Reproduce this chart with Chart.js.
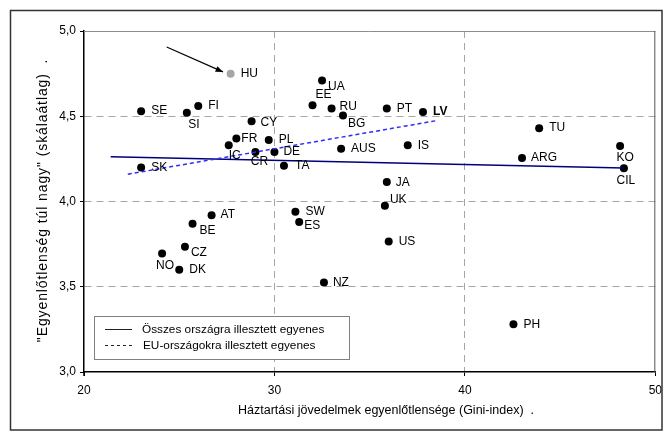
<!DOCTYPE html>
<html>
<head>
<meta charset="utf-8">
<script src="https://cdn.jsdelivr.net/npm/chart.js@4/dist/chart.umd.min.js"></script>
<style>
html,body{margin:0;padding:0;background:#fff;}
#wrap{width:669px;height:438px;}
</style>
</head>
<body>
<div id="wrap"><canvas id="c" width="669" height="438"></canvas></div>
<script>
// ---- data ----
const countries = ['HU','SE','FI','SI','CY','FR','PL','IC','CR','DE','TA','SK','UA','EE','RU','BG','PT','LV','AUS','IS','JA','UK','SW','ES','US','NZ','TU','ARG','KO','CIL','PH','AT','BE','CZ','NO','DK'];
const gini  = [27.7,23.0,26.0,25.4,28.8,28.0,29.7,27.6,29.0,30.0,30.5,23.0,32.5,32.0,33.0,33.6,35.9,37.8,33.5,37.0,35.9,35.8,31.1,31.3,36.0,32.6,43.9,43.0,48.15,48.35,42.55,26.7,25.7,25.3,24.1,25.0];
const score = [4.75,4.53,4.56,4.52,4.47,4.37,4.36,4.33,4.29,4.29,4.21,4.20,4.71,4.565,4.545,4.505,4.545,4.525,4.31,4.33,4.115,3.975,3.94,3.88,3.765,3.525,4.43,4.255,4.325,4.195,3.28,3.92,3.87,3.735,3.695,3.60];
const highlighted = ['HU'];
const boldLabels = ['LV'];
const fitAllX = [21.4, 48.35];
const fitAllY = [4.262, 4.197];
const fitEuX = [22.3, 38.45];
const fitEuY = [4.16, 4.473];
const arrowX = [24.34, 27.3];
const arrowY = [4.906, 4.76];
const xTicks = [20, 30, 40, 50];
const yTicks = [3.0, 3.5, 4.0, 4.5, 5.0];
const yTickLabels = ['3,0', '3,5', '4,0', '4,5', '5,0'];
const legendLabels = ['Összes országra illesztett egyenes', 'EU-országokra illesztett egyenes'];
const xTitle = 'Háztartási jövedelmek egyenlőtlensége (Gini-index)  .';
const yTitle = '"Egyenlőtlenség túl nagy" (skálaátlag)  .';

// ---- label placement (style only): [dx, dy, textAlign] ----
const R = [10, 0, 'left'];
const placement = {
  HU: R, SE: R, FI: R, SI: [7, 12, 'center'], CY: [9, 1, 'left'], FR: [5, 0, 'left'], PL: R,
  IC: [6, 10, 'center'], CR: [4, 10, 'center'], DE: [9, 0, 'left'], TA: [11, 0, 'left'], SK: R,
  UA: [6, 6, 'left'], EE: [11, -10, 'center'], RU: [8, -2, 'left'], BG: [5, 8, 'left'], PT: R, LV: R,
  AUS: R, IS: R, JA: [9, 1, 'left'], UK: [5, -6, 'left'], SW: R, ES: [5, 4, 'left'], US: R, NZ: [9, 0, 'left'],
  TU: R, ARG: [9, 0, 'left'], KO: [5, 12, 'center'], CIL: [2, 12, 'center'], PH: R,
  AT: [9, 0, 'left'], BE: [7, 7, 'left'], CZ: [6, 6, 'left'], NO: [3, 12, 'center'], DK: R
};

const FONT = '"Liberation Sans", Arial, sans-serif';

const decor = {
  id: 'decor',
  beforeDatasetsDraw(chart) {
    const {ctx, chartArea: a} = chart;
    ctx.save();
    ctx.strokeStyle = '#8c8c8c';
    ctx.lineWidth = 1;
    ctx.beginPath();
    ctx.moveTo(a.left, a.top + 0.5);
    ctx.lineTo(a.right, a.top + 0.5);
    ctx.stroke();
    ctx.strokeStyle = '#555';
    ctx.beginPath();
    ctx.moveTo(a.right - 0.5, a.top);
    ctx.lineTo(a.right - 0.5, a.bottom);
    ctx.stroke();
    ctx.strokeStyle = '#000';
    ctx.lineWidth = 1.5;
    ctx.beginPath();
    ctx.moveTo(a.left, a.bottom);
    ctx.lineTo(a.left, a.bottom + 4);
    ctx.stroke();
    ctx.restore();
  },
  afterDraw(chart) {
    const {ctx, chartArea: a, scales: {x, y}} = chart;
    ctx.save();
    ctx.strokeStyle = '#333';
    ctx.lineWidth = 1.5;
    ctx.strokeRect(10.5, 10.5, 651.5, 419.5);

    const meta = chart.getDatasetMeta(2);
    ctx.fillStyle = '#000';
    ctx.textBaseline = 'middle';
    countries.forEach((c, i) => {
      const el = meta.data[i];
      const p = placement[c] || R;
      ctx.font = (boldLabels.includes(c) ? 'bold ' : '') + '12px ' + FONT;
      ctx.textAlign = p[2];
      ctx.fillText(c, el.x + p[0], el.y + p[1]);
    });

    const x1 = x.getPixelForValue(arrowX[0]), y1 = y.getPixelForValue(arrowY[0]);
    const x2 = x.getPixelForValue(arrowX[1]), y2 = y.getPixelForValue(arrowY[1]);
    ctx.strokeStyle = '#000';
    ctx.lineWidth = 1.2;
    ctx.beginPath();
    ctx.moveTo(x1, y1);
    ctx.lineTo(x2, y2);
    ctx.stroke();
    const ang = Math.atan2(y2 - y1, x2 - x1);
    ctx.beginPath();
    ctx.moveTo(x2, y2);
    ctx.lineTo(x2 - 8 * Math.cos(ang - 0.38), y2 - 8 * Math.sin(ang - 0.38));
    ctx.lineTo(x2 - 8 * Math.cos(ang + 0.38), y2 - 8 * Math.sin(ang + 0.38));
    ctx.closePath();
    ctx.fillStyle = '#000';
    ctx.fill();

    const lx = 94.5, ly = 316.5, lw = 255, lh = 43;
    ctx.fillStyle = '#fff';
    ctx.fillRect(lx, ly, lw, lh);
    ctx.strokeStyle = '#808080';
    ctx.lineWidth = 1;
    ctx.strokeRect(lx, ly, lw, lh);
    ctx.font = '11.8px ' + FONT;
    ctx.textAlign = 'left';
    ctx.textBaseline = 'middle';
    ctx.fillStyle = '#000';
    const ds = chart.data.datasets;
    const rows = [329.5, 345.5];
    [0, 1].forEach(k => {
      ctx.strokeStyle = '#222';
      ctx.lineWidth = 1;
      ctx.setLineDash(k === 0 ? [] : [3, 3]);
      ctx.beginPath();
      ctx.moveTo(105, rows[k]);
      ctx.lineTo(132, rows[k]);
      ctx.stroke();
      ctx.setLineDash([]);
      ctx.fillText(ds[k].label, k === 0 ? 142 : 143, rows[k]);
    });

    ctx.font = '12.5px ' + FONT;
    ctx.textAlign = 'center';
    ctx.fillText(xTitle, 386, 411);

    ctx.save();
    ctx.translate(43, (a.top + a.bottom) / 2 - 1);
    ctx.rotate(-Math.PI / 2);
    ctx.font = '14px ' + FONT;
    if ('letterSpacing' in ctx) ctx.letterSpacing = '0.9px';
    ctx.textAlign = 'center';
    ctx.textBaseline = 'middle';
    ctx.fillText(yTitle, 0, 0);
    ctx.restore();
    ctx.restore();
  }
};

const gridColor = (edgeVals) => (ctx) => {
  const v = ctx.tick ? ctx.tick.value : null;
  return edgeVals.includes(v) ? 'rgba(0,0,0,0)' : '#a6a6a6';
};

new Chart(document.getElementById('c'), {
  type: 'scatter',
  data: {
    datasets: [
      {
        label: legendLabels[0], type: 'line',
        data: fitAllX.map((v, i) => ({x: v, y: fitAllY[i]})),
        borderColor: '#00007a', borderWidth: 1.5, pointRadius: 0, fill: false, order: 2
      },
      {
        label: legendLabels[1], type: 'line',
        data: fitEuX.map((v, i) => ({x: v, y: fitEuY[i]})),
        borderColor: '#2d2dff', borderWidth: 1.5, borderDash: [4, 3], pointRadius: 0, fill: false, order: 1
      },
      {
        label: 'Országok',
        data: countries.map((c, i) => ({x: gini[i], y: score[i]})),
        pointBackgroundColor: countries.map(c => highlighted.includes(c) ? '#a6a6a6' : '#000'),
        pointBorderColor: countries.map(c => highlighted.includes(c) ? '#a6a6a6' : '#000'),
        pointBorderWidth: 0, pointRadius: 4, order: 3
      }
    ]
  },
  options: {
    responsive: false,
    animation: false,
    layout: {padding: {left: 0, top: 31, right: 11, bottom: 0}},
    plugins: {legend: {display: false}, tooltip: {enabled: false}},
    scales: {
      x: {
        type: 'linear', min: 20, max: 50,
        afterBuildTicks: s => { s.ticks = xTicks.map(v => ({value: v})); },
        afterFit: s => { s.height = 66; },
        ticks: {font: {family: FONT, size: 12}, color: '#000', padding: 7, maxRotation: 0,
                callback: v => String(v)},
        grid: {color: gridColor([20, 50]), tickColor: '#000', tickLength: 4, lineWidth: 1},
        border: {color: '#000', width: 1.5, dash: [7, 5]},
        title: {display: false}
      },
      y: {
        type: 'linear', min: 3, max: 5,
        afterBuildTicks: s => { s.ticks = yTicks.map(v => ({value: v})); },
        afterFit: s => { s.width = 84; },
        ticks: {font: {family: FONT, size: 12}, color: '#000', padding: 4,
                callback: (v) => yTickLabels[yTicks.indexOf(v)] ?? ''},
        grid: {color: gridColor([3, 5]), tickColor: '#000', tickLength: 4, lineWidth: 1},
        border: {color: '#000', width: 1.5, dash: [7, 5]},
        title: {display: false}
      }
    }
  },
  plugins: [decor]
});
</script>
</body>
</html>
